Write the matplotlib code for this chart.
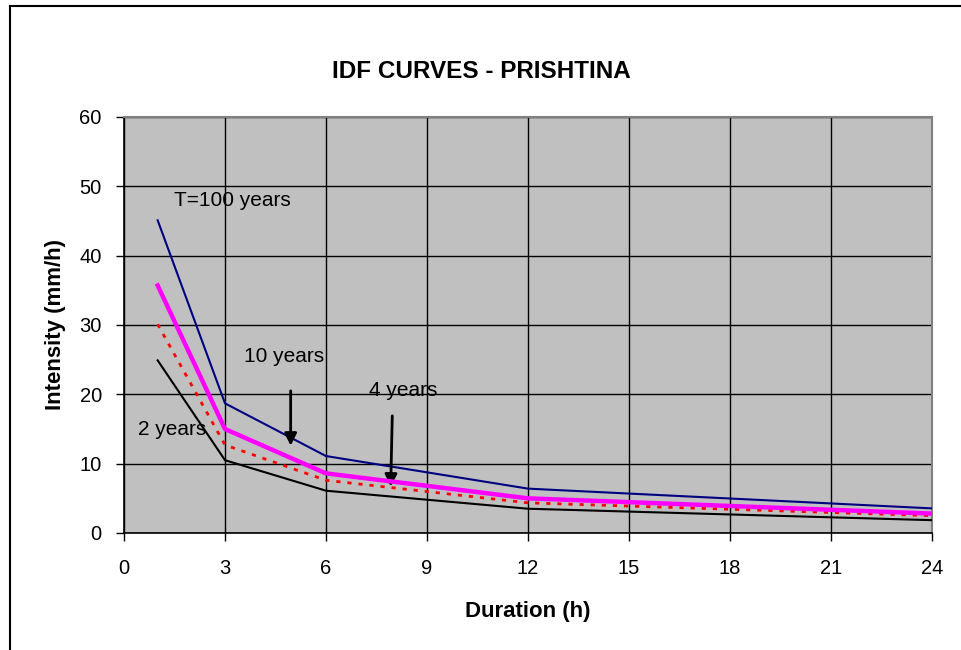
import matplotlib
matplotlib.use("Agg")
import matplotlib.pyplot as plt
from matplotlib.lines import Line2D

plt.rcParams['font.family'] = ['Liberation Sans', 'DejaVu Sans']

# durations (h) and intensities (mm/h)
duration = [1, 3, 6, 12, 24]
t100 = [45.1, 18.7, 11.1, 6.4, 3.55]
t10 = [35.7, 15.0, 8.6, 5.0, 2.8]
t4 = [30.1, 12.7, 7.6, 4.35, 2.5]
t2 = [24.9, 10.5, 6.1, 3.5, 1.85]

xticks = [0, 3, 6, 9, 12, 15, 18, 21, 24]
yticks = [0, 10, 20, 30, 40, 50, 60]

fig = plt.figure(figsize=(9.62, 6.5), dpi=100)
ax = fig.add_axes([124/962, 1 - 533/650, (932 - 124)/962, (533 - 117)/650])
ax.set_facecolor('#C0C0C0')

ax.plot(duration, t2, color='black', lw=1.5, zorder=3)
ax.plot(duration, t4, color='#FF0000', lw=2, ls=(0, (1.5, 2.5)), zorder=3)
ax.plot(duration, t10, color='#FF00FF', lw=3.2, zorder=4)
ax.plot(duration, t100, color='#000080', lw=1.5, zorder=3)

ax.set_xlim(0, 24)
ax.set_ylim(0, 60)
ax.set_xticks(xticks)
ax.set_yticks(yticks)
ax.grid(True, color='black', lw=1)
ax.set_axisbelow(True)
ax.tick_params(axis='both', direction='out', length=6, width=1, labelsize=14.5)
ax.tick_params(axis='x', pad=13)
ax.tick_params(axis='y', pad=10)
for side in ['top', 'right']:
    ax.spines[side].set_color('#808080')
    ax.spines[side].set_linewidth(1.5)
for side in ['left', 'bottom']:
    ax.spines[side].set_color('black')
    ax.spines[side].set_linewidth(1.2)

ax.set_xlabel('Duration (h)', fontsize=16, fontweight='bold', labelpad=16)
ax.set_ylabel('Intensity (mm/h)', fontsize=16, fontweight='bold', labelpad=10)
fig.text(0.5, 1 - 72/650, 'IDF CURVES - PRISHTINA', ha='center', va='center',
         fontsize=17.5, fontweight='bold')

ax.text(3.23, 48, 'T=100 years', fontsize=15, ha='center', va='center')
ax.text(4.76, 25.5, '10 years', fontsize=15, ha='center', va='center')
ax.text(8.3, 20.6, '4 years', fontsize=15, ha='center', va='center')
ax.text(1.42, 14.9, '2 years', fontsize=15, ha='center', va='center')

ax.annotate('', xy=(4.95, 12.2), xytext=(4.95, 20.9),
            arrowprops=dict(arrowstyle='-|>', color='black', lw=2,
                            mutation_scale=18))
ax.annotate('', xy=(7.92, 6.3), xytext=(7.97, 17.3),
            arrowprops=dict(arrowstyle='-|>', color='black', lw=2,
                            mutation_scale=18))

# chart area border (left and top visible)
fig.add_artist(Line2D([10/962, 10/962], [0, 1 - 6/650], color='black', lw=1.5,
                      transform=fig.transFigure))
fig.add_artist(Line2D([10/962, 1], [1 - 6/650, 1 - 6/650], color='black', lw=1.5,
                      transform=fig.transFigure))

fig.savefig('out.png', dpi=100)
